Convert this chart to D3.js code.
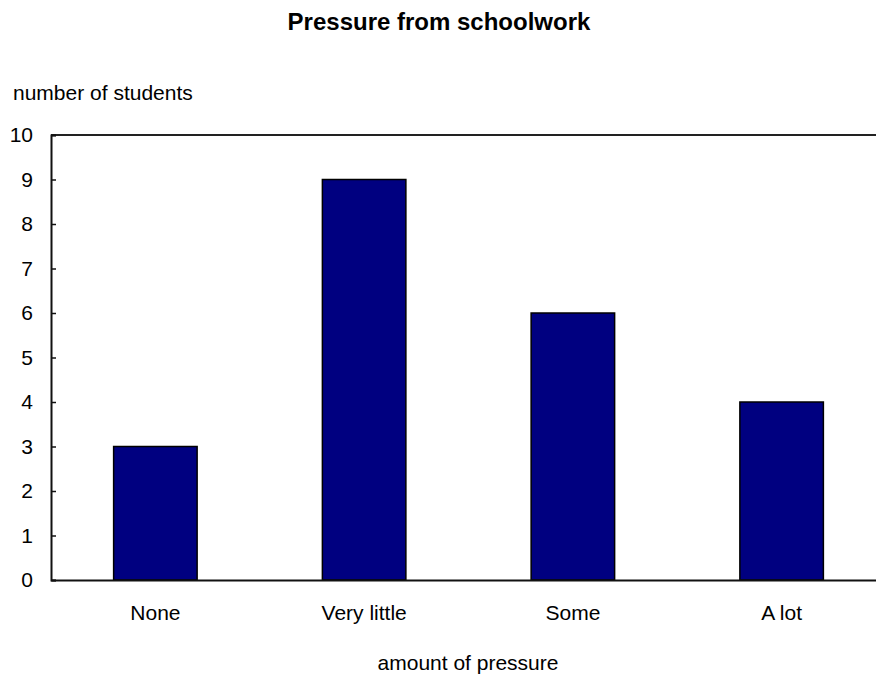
<!DOCTYPE html>
<meta charset="utf-8">
<style>
body { margin: 0; background: #fff; }
text { font-family: "Liberation Sans", Arial, sans-serif; fill: #000; }
.axis path, .axis line { stroke: #111; }
.bar { fill: #000080; stroke: #000; stroke-width: 1.5px; }
</style>
<svg width="876" height="677"></svg>
<script src="https://cdn.jsdelivr.net/npm/d3@7"></script>
<script>
// data
var categories = ["None", "Very little", "Some", "A lot"];
var counts = [3, 9, 6, 4];
var yTicks = [0, 1, 2, 3, 4, 5, 6, 7, 8, 9, 10];

var svg = d3.select("svg"),
    plotLeft = 51, plotTop = 135, plotBottom = 580, plotRight = 886;

var x = d3.scaleBand()
    .domain(categories)
    .range([plotLeft, plotRight])
    .paddingInner(0.6)
    .paddingOuter(0.3);

var y = d3.scaleLinear().domain([0, 10]).range([plotBottom, plotTop]);

// title
svg.append("text")
    .attr("x", 439)
    .attr("y", 30)
    .attr("text-anchor", "middle")
    .style("font-size", "24px")
    .style("font-weight", "bold")
    .text("Pressure from schoolwork");

// bars
svg.selectAll(".bar")
  .data(counts)
  .enter().append("rect")
    .attr("class", "bar")
    .attr("x", function(d, i) { return x(categories[i]); })
    .attr("y", function(d) { return y(d); })
    .attr("width", x.bandwidth())
    .attr("height", function(d) { return y(0) - y(d); });

// top border line
svg.append("line")
    .attr("x1", plotLeft).attr("x2", 876)
    .attr("y1", y(10)).attr("y2", y(10))
    .attr("stroke", "#222")
    .attr("stroke-width", 2);

// y axis
var yAxis = svg.append("g")
    .attr("class", "axis")
    .attr("transform", "translate(" + plotLeft + ",0)")
    .call(d3.axisLeft(y).tickValues(yTicks).tickSize(-5).tickPadding(18));
yAxis.select(".domain").attr("stroke-width", 2);
yAxis.selectAll(".tick line").attr("stroke-width", 1.5);
yAxis.selectAll("text").style("font-size", "21px").attr("fill", "#000");

// x axis
var xAxis = svg.append("g")
    .attr("class", "axis")
    .attr("transform", "translate(0," + plotBottom + ")")
    .call(d3.axisBottom(x).tickSize(0).tickPadding(25));
xAxis.select(".domain").attr("stroke-width", 2);
xAxis.selectAll("text").style("font-size", "21px").attr("fill", "#000");

// axis titles
svg.append("text")
    .attr("x", 13)
    .attr("y", 100)
    .style("font-size", "21px")
    .text("number of students");

svg.append("text")
    .attr("x", 468)
    .attr("y", 670)
    .attr("text-anchor", "middle")
    .style("font-size", "21px")
    .text("amount of pressure");
</script>
